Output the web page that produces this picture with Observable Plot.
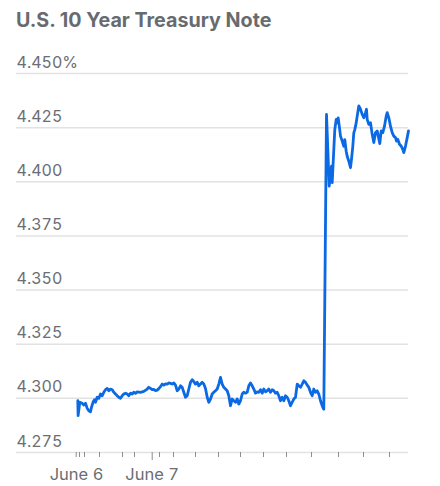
<!DOCTYPE html>
<html><head><meta charset="utf-8">
<script src="https://cdn.jsdelivr.net/npm/d3@7"></script>
<script src="https://cdn.jsdelivr.net/npm/@observablehq/plot@0.6"></script>
<style>
body{margin:0;background:#fff;font-family:Inter,"Open Sans",sans-serif;}
#wrap{position:relative;width:440px;height:486px;overflow:hidden;}
#title{position:absolute;left:16px;top:8px;font-size:19.7px;font-weight:700;color:#676b70;line-height:24px;white-space:nowrap;}
#chart{position:absolute;left:0;top:40px;}
</style></head><body>
<div id="wrap"><div id="title">U.S. 10 Year Treasury Note</div><div id="chart"></div></div>
<script>
// session time index (trading-time units) and yield (%)
const times = [
61.3,61.6,63.3,65.7,67.3,69.0,70.7,72.3,74.0,75.0,76.7,78.0,79.0,80.7,82.3,84.0,85.7,87.3,89.0,90.7,
92.3,94.0,95.7,97.3,99.0,100.7,102.3,104.0,105.7,107.3,109.0,110.7,112.3,114.0,115.7,117.3,119.0,120.7,124.0,127.3,
130.7,132.3,134.0,135.7,137.3,139.0,140.7,142.3,
144.0,145.7,147.3,149.0,150.7,152.3,154.0,155.7,157.3,159.0,160.7,162.3,164.0,165.7,167.3,169.0,170.7,172.3,174.0,175.7,
177.3,179.0,180.7,182.3,184.0,185.7,187.3,189.0,190.7,192.3,194.0,195.7,197.3,199.0,200.7,202.3,204.0,205.7,207.3,209.0,
210.7,212.3,214.0,215.7,217.3,219.0,220.7,222.3,224.0,225.7,227.3,229.0,230.7,232.3,234.0,
235.7,237.3,239.0,240.7,242.3,244.0,245.7,247.3,249.0,250.7,252.3,254.0,255.7,257.3,259.0,260.7,262.3,264.0,265.7,267.3,
269.0,270.7,272.3,274.0,275.7,277.3,279.0,280.7,282.3,284.0,285.7,287.3,289.0,290.7,292.3,294.0,295.7,297.3,299.0,300.7,
302.3,304.0,305.7,306.7,307.3,
310.0,312.7,315.0,315.7,317.3,318.3,319.7,320.7,321.7,323.0,324.0,325.7,327.3,328.3,329.7,330.7,332.3,334.0,335.0,336.3,
337.3,338.3,339.7,340.7,342.3,344.0,
345.7,347.3,349.0,350.0,350.7,352.3,354.0,355.7,357.3,359.0,360.7,363.3,364.7,366.3,368.0,369.7,370.7,372.3,374.0,375.7,
377.3,379.0,380.0,381.3,383.0,384.7,386.3,387.3,389.0,390.7,392.0
];
const yields = [
4.2989,4.2920,4.2982,4.2977,4.2969,4.2977,4.2954,4.2943,4.2938,4.2959,4.2984,4.2994,4.2982,4.3005,4.3000,4.3020,4.3012,4.3028,4.3040,4.3046,
4.3035,4.3043,4.3040,4.3028,4.3020,4.3012,4.3005,4.3000,4.3012,4.3020,4.3024,4.3020,4.3012,4.3024,4.3020,4.3028,4.3023,4.3030,4.3028,4.3032,
4.3043,4.3051,4.3046,4.3040,4.3041,4.3036,4.3038,4.3045,
4.3054,4.3066,4.3061,4.3067,4.3066,4.3071,4.3069,4.3066,4.3071,4.3061,4.3035,4.3043,4.3058,4.3051,4.3028,4.3005,4.3012,4.3043,4.3074,4.3086,
4.3077,4.3066,4.3074,4.3058,4.3066,4.3074,4.3066,4.3046,4.3005,4.2982,4.2997,4.3020,4.3028,4.3035,4.3043,4.3066,4.3097,4.3066,4.3051,4.3043,
4.3035,4.3012,4.2966,4.2997,4.2989,4.2982,4.2997,4.2974,4.2989,4.3020,4.3028,4.3024,4.3028,4.3058,4.3071,
4.3058,4.3043,4.3024,4.3030,4.3028,4.3040,4.3024,4.3043,4.3030,4.3035,4.3043,4.3028,4.3040,4.3035,4.3024,4.3028,4.3012,4.2989,4.3005,4.2989,
4.3012,4.3005,4.2989,4.2966,4.2982,4.2997,4.3005,4.3066,4.3058,4.3051,4.3066,4.3081,4.3074,4.3061,4.3051,4.3028,4.3012,4.3043,4.3028,4.3035,
4.3020,4.2989,4.2966,4.2954,4.2950,
4.4311,4.3980,4.4072,4.3996,4.4149,4.4241,4.4288,4.4272,4.4295,4.4249,4.4211,4.4188,4.4164,4.4195,4.4141,4.4118,4.4095,4.4065,4.4104,4.4164,
4.4226,4.4241,4.4272,4.4303,4.4350,4.4335,
4.4311,4.4296,4.4318,4.4335,4.4288,4.4265,4.4273,4.4219,4.4181,4.4227,4.4235,4.4176,4.4235,4.4227,4.4257,4.4303,4.4319,4.4296,4.4257,4.4227,
4.4211,4.4204,4.4188,4.4196,4.4173,4.4165,4.4150,4.4135,4.4165,4.4204,4.4235
];
const yTicks = [4.275, 4.300, 4.325, 4.350, 4.375, 4.400, 4.425, 4.450];
const yTickLabels = ["4.275", "4.300", "4.325", "4.350", "4.375", "4.400", "4.425", "4.450%"];
const tickTimes = [59.7, 63, 68, 83, 106, 118, 143, 157, 179, 202, 224, 247, 270, 295, 322, 347, 373];
const dayTimes = [135.7];
const labelTimes = [60, 135.7];
const labelTexts = ["June 6", "June 7"];

const data = times.map((t, i) => ({t, v: yields[i]}));

const chart = Plot.plot({
  width: 440,
  height: 446,
  marginLeft: 16,
  marginRight: 32,
  marginTop: 33,
  marginBottom: 34,
  x: {domain: [0, 392], label: null},
  y: {domain: [4.275, 4.450], label: null},
  style: {fontFamily: "Inter, sans-serif", background: "transparent", overflow: "visible"},
  marks: [
    Plot.gridY(yTicks, {stroke: "#e2e2e2", strokeOpacity: 1, strokeWidth: 1.5}),
    Plot.axisY(yTicks, {
      anchor: "left", label: null, tickSize: 0, tickPadding: 0, textAnchor: "start", lineAnchor: "bottom",
      dy: -6, fontSize: 16, fill: "#6b6e72",
      tickFormat: (d) => yTickLabels[yTicks.indexOf(d)]
    }),
    Plot.axisX(tickTimes, {anchor: "bottom", label: null, tickSize: 5, stroke: "#8a8d91", strokeWidth: 1, tickFormat: () => ""}),
    Plot.axisX(dayTimes, {anchor: "bottom", label: null, tickSize: 8, stroke: "#8a8d91", strokeWidth: 1, tickFormat: () => ""}),
    Plot.axisX(labelTimes, {
      anchor: "bottom", label: null, tickSize: 0, tickPadding: 16, fontSize: 16.5, fill: "#6b6e72",
      tickFormat: (d) => labelTexts[labelTimes.indexOf(d)]
    }),
    Plot.line(data, {x: "t", y: "v", stroke: "#0b69e3", strokeWidth: 2.8, strokeLinejoin: "round", strokeLinecap: "round"})
  ]
});
document.getElementById("chart").appendChild(chart);
</script>
</body></html>
